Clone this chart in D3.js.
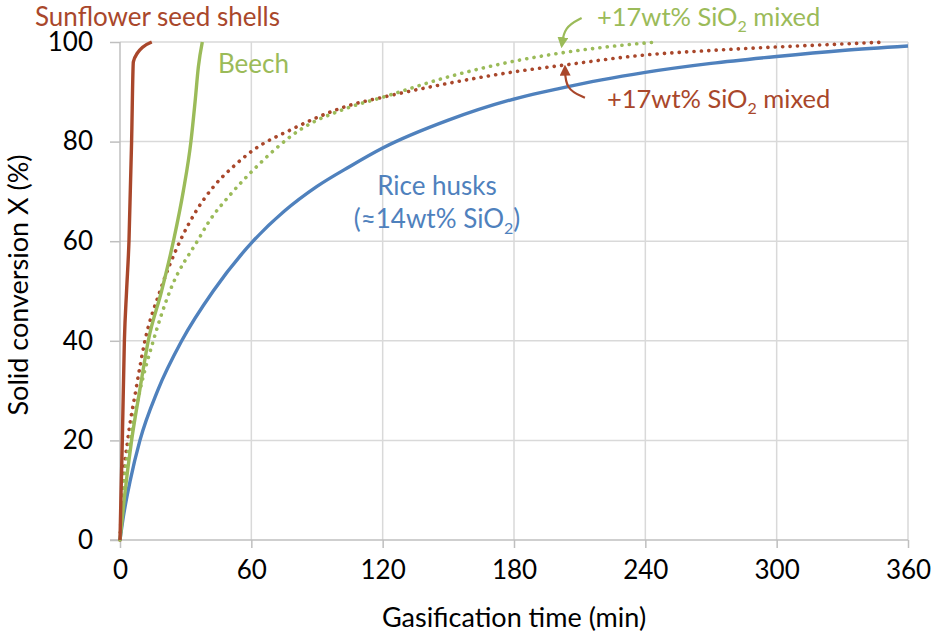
<!DOCTYPE html>
<html>
<head>
<meta charset="utf-8">
<script src="https://cdn.jsdelivr.net/npm/d3@7"></script>
<style>
  body { margin: 0; background: #fff; }
  text { font-family: Lato, "Open Sans", sans-serif; }
  .grid line { stroke: #d9d9d9; stroke-width: 1.5; }
  .axis path, .axis line { stroke: #bfbfbf; stroke-width: 1.5; }
  .axis text { fill: #000; font-size: 26px; }
</style>
</head>
<body>
<svg id="chart" width="936" height="641"></svg>
<script>
// time in minutes, conversion in %
var sunflowerT = [0, 0.4, 1.06, 2, 3, 4.1, 5.3, 6.1, 8, 10.5, 14.5];
var sunflowerX = [0, 8, 20, 40, 50, 60, 80, 96, 97.8, 99, 100];

var beechT = [0, 2, 5.3, 9, 12.9, 19, 24.4, 28.9, 32.4, 34.3, 35.8, 37.6];
var beechX = [0, 8.5, 20, 30, 40, 50, 60, 70, 80, 88, 95, 100];

var riceT = [0, 1.5, 4.6, 9.1, 17.2, 28.2, 42.6, 60.8, 75, 90, 105, 120, 150, 183, 200, 220, 240, 270, 300, 330, 360];
var riceX = [0, 4.6, 11.8, 20, 30, 40, 50, 60, 66, 71, 75, 78.7, 84.3, 88.9, 90.6, 92.4, 93.9, 95.7, 97.1, 98.3, 99.2];

var sunflowerMixT = [0, 1.1, 3.5, 7.2, 11.4, 18.3, 27.4, 34.3, 43.4, 51.8, 60.9, 77.7, 105, 120, 150, 183, 200, 240, 270, 300, 330, 350];
var sunflowerMixX = [0, 10, 20, 30, 40, 50, 60, 65.7, 71.3, 75, 78.3, 82.3, 87.3, 88.9, 91.7, 94.2, 95.2, 97.4, 98.3, 99, 99.6, 100];

var beechMixT = [0, 1.5, 4.6, 9.1, 15.2, 22.8, 36, 40.3, 50.3, 60.9, 82, 103.6, 120, 150, 183, 200, 222, 245];
var beechMixX = [0, 10, 20, 30, 40, 50, 60.5, 63.7, 69.3, 74.3, 82.3, 86.7, 88.9, 93, 96.4, 97.7, 99, 100];

var xTicks = [0, 60, 120, 180, 240, 300, 360];
var yTicks = [0, 20, 40, 60, 80, 100];

var brown = "#a9472b", green = "#9bbb59", blue = "#4f81bd";

var margin = {top: 42, right: 28, bottom: 101, left: 120};
var width = 936 - margin.left - margin.right,
    height = 641 - margin.top - margin.bottom;

var svg = d3.select("#chart");

var defs = svg.append("defs");
[["arrowGreen", green], ["arrowBrown", brown]].forEach(function (m) {
  defs.append("marker")
      .attr("id", m[0])
      .attr("viewBox", "0 0 10 10")
      .attr("refX", 8).attr("refY", 5)
      .attr("markerWidth", 5).attr("markerHeight", 5)
      .attr("orient", "auto")
    .append("path")
      .attr("d", "M0,0 L10,5 L0,10 Z")
      .attr("fill", m[1]);
});

var g = svg.append("g")
    .attr("transform", "translate(" + margin.left + "," + margin.top + ")");

var x = d3.scaleLinear().domain([0, 360]).range([0, width]);
var y = d3.scaleLinear().domain([0, 100]).range([height, 0]);

// gridlines
g.append("g").attr("class", "grid")
  .selectAll("line").data(yTicks.filter(function (d) { return d > 0; }))
  .enter().append("line")
    .attr("x1", 0).attr("x2", width)
    .attr("y1", function (d) { return y(d); }).attr("y2", function (d) { return y(d); });

g.append("g").attr("class", "grid")
  .selectAll("line").data(xTicks.filter(function (d) { return d > 0; }))
  .enter().append("line")
    .attr("y1", 0).attr("y2", height)
    .attr("x1", function (d) { return x(d); }).attr("x2", function (d) { return x(d); });

var xAxis = d3.axisBottom(x).tickValues(xTicks).tickSize(8).tickPadding(13);
var yAxis = d3.axisLeft(y).tickValues(yTicks).tickSize(10).tickPadding(17);

g.append("g").attr("class", "axis")
    .attr("transform", "translate(0," + height + ")")
    .call(xAxis)
    .call(function (s) { s.select(".domain").attr("d", "M-10,0H" + width); });

g.append("g").attr("class", "axis")
    .call(yAxis)
    .call(function (s) { s.select(".domain").attr("d", "M0,0V" + height); });

// series
var line = d3.line()
    .x(function (d) { return x(d[0]); })
    .y(function (d) { return y(d[1]); })
    .curve(d3.curveMonotoneX);

function zip(a, b) { return a.map(function (v, i) { return [v, b[i]]; }); }

var series = [
  {t: sunflowerMixT, v: sunflowerMixX, color: brown, dotted: true},
  {t: beechMixT, v: beechMixX, color: green, dotted: true},
  {t: riceT, v: riceX, color: blue, dotted: false},
  {t: beechT, v: beechX, color: green, dotted: false},
  {t: sunflowerT, v: sunflowerX, color: brown, dotted: false}
];

series.forEach(function (s) {
  var p = g.append("path")
      .datum(zip(s.t, s.v))
      .attr("d", line)
      .attr("fill", "none")
      .attr("stroke", s.color);
  if (s.dotted) {
    p.attr("stroke-width", 3.6)
     .attr("stroke-linecap", "round")
     .attr("stroke-dasharray", "0.1 7.3");
  } else {
    p.attr("stroke-width", 3.4)
     .attr("stroke-linejoin", "round");
  }
});

// labels
function label(tx, ty, color, parts, anchor, size) {
  var t = g.append("text")
      .attr("x", tx).attr("y", ty)
      .attr("fill", color)
      .attr("font-size", size || 26)
      .attr("text-anchor", anchor || "start");
  parts.forEach(function (p) {
    var ts = t.append("tspan").text(p.s);
    if (p.sub) ts.attr("font-size", 16).attr("dy", 6);
    if (p.after) ts.attr("dy", -6);
  });
}

label(-85, -16, brown, [{s: "Sunflower seed shells"}]);
label(98, 31, green, [{s: "Beech"}]);
label(477, -16, green, [{s: "+17wt% SiO"}, {s: "2", sub: true}, {s: " mixed", after: true}], "start", 25.5);
label(487, 66, brown, [{s: "+17wt% SiO"}, {s: "2", sub: true}, {s: " mixed", after: true}], "start", 25.5);
label(317, 153, blue, [{s: "Rice husks"}], "middle");
label(317, 186, blue, [{s: "(≈14wt% SiO"}, {s: "2", sub: true}, {s: ")", after: true}], "middle");

// arrows
var arrowGreen = [[210.9, 104.8], [203, 103], [201.8, 99.2]];
var arrowBrown = [[212.4, 88.8], [203.5, 90.5], [203.3, 95.0]];
var arrowLine = d3.line()
    .x(function (d) { return x(d[0]); })
    .y(function (d) { return y(d[1]); })
    .curve(d3.curveBasis);

g.append("path").datum(arrowGreen)
    .attr("d", arrowLine).attr("fill", "none")
    .attr("stroke", green).attr("stroke-width", 2.2)
    .attr("marker-end", "url(#arrowGreen)");
g.append("path").datum(arrowBrown)
    .attr("d", arrowLine).attr("fill", "none")
    .attr("stroke", brown).attr("stroke-width", 2.2)
    .attr("marker-end", "url(#arrowBrown)");

// axis titles
g.append("text")
    .attr("x", width / 2).attr("y", height + 87)
    .attr("text-anchor", "middle").attr("font-size", 27)
    .text("Gasification time (min)");

g.append("text")
    .attr("transform", "translate(" + (-92) + "," + 243 + ") rotate(-90)")
    .attr("text-anchor", "middle").attr("font-size", 27)
    .text("Solid conversion X (%)");
</script>
</body>
</html>
